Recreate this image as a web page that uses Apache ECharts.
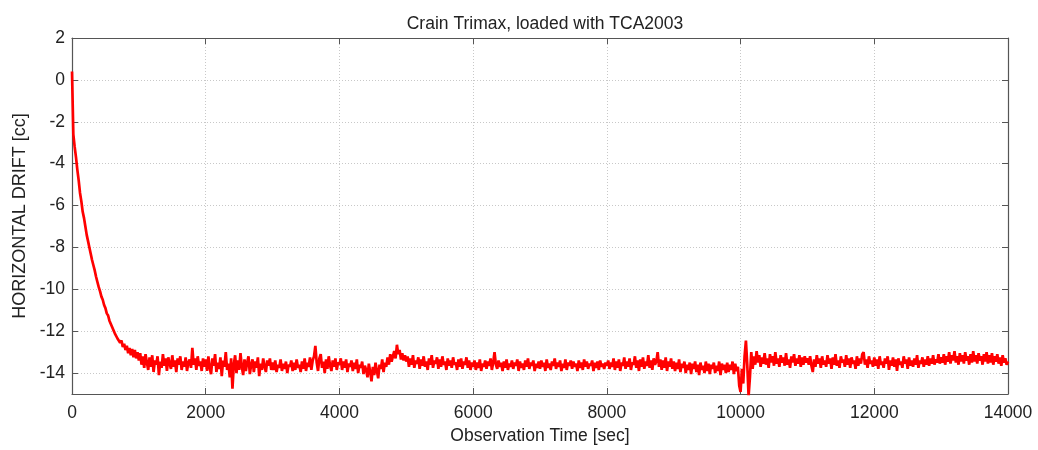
<!DOCTYPE html>
<html>
<head>
<meta charset="utf-8">
<script src="https://cdn.jsdelivr.net/npm/echarts@6/dist/echarts.min.js"></script>
<style>html,body{margin:0;padding:0;background:#fff}#c{width:1038px;height:450px}</style>
</head>
<body>
<div id="c"></div>
<script>
const titleText = 'Crain Trimax, loaded with TCA2003';
const xName = 'Observation Time [sec]';
const yName = 'HORIZONTAL DRIFT [cc]';
const sampleStep = 20; // seconds between samples
const xTicks = [0, 2000, 4000, 6000, 8000, 10000, 12000, 14000];
const yTicks = [2, 0, -2, -4, -6, -8, -10, -12, -14];

// Drift readings, one row per 1000 s (50 samples each)
const drift0 = [0.4, -2.6, -3.2, -3.7, -4.3, -4.8, -5.4, -5.8, -6.3, -6.6,
  -7.0, -7.4, -7.7, -8.0, -8.3, -8.6, -8.85, -9.1, -9.4, -9.65,
  -9.9, -10.1, -10.35, -10.5, -10.75, -10.9, -11.15, -11.25, -11.5, -11.55,
  -11.8, -11.85, -12.1, -12.05, -12.35, -12.3, -12.55, -12.45, -12.75, -12.6,
  -12.9, -12.7, -13.05, -12.8, -13.15, -12.85, -13.25, -12.9, -13.3, -13.0];
const drift1 = [-13.4, -13.05, -13.6, -13.2, -13.75, -13.1, -13.5, -13.85, -13.25, -13.7,
  -13.15, -13.95, -13.4, -13.6, -13.2, -14.1, -13.45, -13.75, -13.1, -13.65,
  -13.3, -13.9, -13.25, -13.55, -13.8, -13.15, -13.7, -13.4, -13.95, -13.3,
  -13.6, -13.2, -13.85, -13.45, -13.7, -13.25, -13.9, -13.5, -13.35, -13.75,
  -12.8, -13.6, -13.3, -13.85, -13.2, -13.65, -13.45, -13.9, -13.3, -13.7];
const drift2 = [-13.35, -13.9, -13.2, -13.75, -14.05, -13.3, -13.65, -13.1, -13.95, -13.5,
  -13.8, -13.25, -14.15, -13.4, -13.7, -13.0, -13.85, -13.55, -14.2, -13.3,
  -14.75, -13.6, -13.15, -14.0, -13.4, -13.85, -13.05, -13.7, -14.1, -13.35,
  -13.9, -13.5, -13.2, -14.05, -13.6, -13.35, -13.95, -13.45, -13.75, -13.25,
  -14.15, -13.55, -13.85, -13.3, -13.7, -13.95, -13.4, -13.65, -13.3, -13.85];
const drift3 = [-13.5, -13.85, -13.4, -13.95, -13.6, -13.75, -13.35, -13.9, -13.55, -13.8,
  -13.45, -14.0, -13.6, -13.7, -13.4, -13.9, -13.5, -13.85, -13.35, -13.75,
  -13.6, -13.95, -13.45, -13.8, -13.3, -13.9, -13.5, -13.7, -13.25, -13.85,
  -13.4, -13.2, -12.7, -13.5, -13.9, -13.3, -13.1, -13.75, -13.45, -14.0,
  -13.35, -13.8, -13.2, -13.65, -13.9, -13.4, -13.7, -13.3, -13.85, -13.5];
const drift4 = [-13.6, -13.3, -13.85, -13.45, -13.75, -13.35, -13.95, -13.55, -13.7, -13.4,
  -13.9, -13.5, -13.8, -13.35, -14.0, -13.6, -13.75, -13.45, -14.05, -13.65,
  -13.85, -14.2, -13.55, -13.95, -14.4, -13.7, -14.1, -13.5, -13.9, -14.25,
  -13.6, -13.8, -13.35, -13.95, -13.5, -13.7, -13.25, -13.6, -13.1, -13.45,
  -13.2, -12.95, -13.3, -12.65, -13.1, -12.9, -13.35, -13.05, -13.4, -13.15];
const drift5 = [-13.45, -13.2, -13.7, -13.3, -13.6, -13.15, -13.75, -13.4, -13.55, -13.25,
  -13.8, -13.35, -13.65, -13.2, -13.7, -13.45, -13.85, -13.3, -13.6, -13.15,
  -13.75, -13.4, -13.55, -13.25, -13.8, -13.35, -13.7, -13.2, -13.6, -13.45,
  -13.85, -13.3, -13.65, -13.4, -13.75, -13.25, -13.6, -13.5, -13.85, -13.35,
  -13.7, -13.3, -13.8, -13.45, -13.6, -13.25, -13.75, -13.4, -13.85, -13.5];
const drift6 = [-13.7, -13.4, -13.85, -13.5, -13.75, -13.35, -13.9, -13.55, -13.7, -13.4,
  -13.8, -13.45, -13.65, -13.3, -13.85, -13.5, -13.0, -13.6, -13.8, -13.4,
  -13.7, -13.5, -13.9, -13.45, -13.75, -13.35, -13.85, -13.55, -13.7, -13.4,
  -13.8, -13.5, -13.65, -13.35, -13.9, -13.45, -13.75, -13.55, -13.85, -13.4,
  -13.7, -13.3, -13.8, -13.5, -13.65, -13.4, -13.9, -13.55, -13.75, -13.45];
const drift7 = [-13.8, -13.4, -13.7, -13.5, -13.9, -13.35, -13.75, -13.55, -13.85, -13.45,
  -13.65, -13.3, -13.8, -13.5, -13.7, -13.4, -13.9, -13.55, -13.75, -13.35,
  -13.85, -13.5, -13.65, -13.4, -13.8, -13.45, -13.7, -13.55, -13.9, -13.4,
  -13.75, -13.5, -13.85, -13.35, -13.7, -13.45, -13.8, -13.55, -13.65, -13.4,
  -13.9, -13.5, -13.75, -13.45, -13.85, -13.4, -13.7, -13.55, -13.8, -13.5];
const drift8 = [-13.65, -13.4, -13.8, -13.5, -13.7, -13.3, -13.85, -13.45, -13.75, -13.35,
  -13.9, -13.5, -13.65, -13.25, -13.8, -13.45, -13.7, -13.3, -13.85, -13.5,
  -13.6, -13.2, -13.75, -13.4, -13.9, -13.35, -13.7, -13.25, -13.8, -13.45,
  -13.65, -13.15, -13.75, -13.4, -13.85, -13.3, -13.6, -13.45, -13.0, -13.7,
  -13.35, -13.85, -13.4, -13.75, -13.25, -13.9, -13.45, -13.7, -13.3, -13.8];
const drift9 = [-13.45, -13.9, -13.5, -13.8, -13.35, -13.95, -13.55, -13.75, -13.45, -14.0,
  -13.6, -13.85, -13.5, -14.05, -13.55, -13.8, -13.45, -13.95, -13.6, -14.1,
  -13.5, -13.85, -13.65, -14.0, -13.45, -13.9, -13.55, -14.05, -13.6, -13.8,
  -13.5, -14.0, -13.65, -13.9, -13.45, -14.1, -13.55, -13.85, -13.6, -14.0,
  -13.5, -13.95, -13.6, -13.85, -13.45, -14.05, -13.55, -13.9, -13.7, -14.6];
const drift10 = [-14.9, -13.8, -14.5, -13.2, -12.45, -13.6, -15.1, -14.2, -13.0, -13.8,
  -13.2, -13.6, -12.95, -13.5, -13.15, -13.7, -13.25, -13.55, -13.05, -13.6,
  -13.3, -13.75, -13.1, -13.5, -13.2, -13.65, -13.0, -13.55, -13.3, -13.7,
  -13.15, -13.5, -13.25, -13.65, -13.05, -13.6, -13.35, -13.75, -13.2, -13.5,
  -13.1, -13.65, -13.3, -13.55, -13.15, -13.7, -13.25, -13.6, -13.2, -13.5];
const drift11 = [-13.3, -13.6, -13.2, -13.65, -13.95, -13.35, -13.7, -13.15, -13.55, -13.3,
  -13.75, -13.2, -13.6, -13.4, -13.7, -13.15, -13.55, -13.3, -13.8, -13.25,
  -13.6, -13.1, -13.65, -13.4, -13.75, -13.2, -13.5, -13.35, -13.7, -13.15,
  -13.6, -13.3, -13.75, -13.25, -13.55, -13.4, -13.8, -13.2, -13.65, -13.3,
  -13.55, -13.1, -13.0, -13.6, -13.35, -13.75, -13.2, -13.55, -13.4, -13.7];
const drift12 = [-13.25, -13.65, -13.35, -13.8, -13.2, -13.6, -13.45, -13.75, -13.3, -13.55,
  -13.2, -13.85, -13.4, -13.65, -13.25, -13.7, -13.35, -13.9, -13.3, -13.6,
  -13.45, -13.75, -13.2, -13.55, -13.35, -13.8, -13.25, -13.65, -13.4, -13.7,
  -13.3, -13.6, -13.15, -13.75, -13.4, -13.55, -13.25, -13.7, -13.35, -13.6,
  -13.2, -13.65, -13.3, -13.55, -13.15, -13.6, -13.35, -13.5, -13.1, -13.55];
const drift13 = [-13.25, -13.5, -13.1, -13.6, -13.2, -13.45, -13.0, -13.55, -13.15, -13.4,
  -12.95, -13.5, -13.2, -13.6, -13.05, -13.45, -13.15, -13.55, -13.0, -13.4,
  -13.2, -13.6, -13.1, -13.5, -12.95, -13.45, -13.15, -13.55, -13.05, -13.4,
  -13.2, -13.6, -13.1, -13.45, -13.0, -13.55, -13.15, -13.5, -13.05, -13.6,
  -13.2, -13.45, -13.1, -13.55, -13.25, -13.65, -13.15, -13.5, -13.3, -13.6];
const driftEnd = [-13.45];

const drift = [].concat(drift0, drift1, drift2, drift3, drift4, drift5, drift6, drift7,
  drift8, drift9, drift10, drift11, drift12, drift13, driftEnd);
const seriesData = drift.map((v, i) => [i * sampleStep, v]);

const FONT = 'Liberation Sans, Arial, sans-serif';
const frameColor = '#555';
const gridColor = '#c8c8c8';
const textColor = '#222';

const chart = echarts.init(document.getElementById('c'), null, {renderer: 'canvas'});
chart.setOption({
  animation: false,
  backgroundColor: '#fff',
  title: {
    text: titleText, left: 540, top: 10, textAlign: 'center',
    textStyle: {fontFamily: FONT, fontSize: 17.5, fontWeight: 'normal', color: textColor}
  },
  grid: {left: 72, right: 30, top: 38, bottom: 54, containLabel: false},
  xAxis: [{
    type: 'value', min: 0, max: 14000, interval: 2000, position: 'bottom',
    name: xName, nameLocation: 'middle', nameGap: 33,
    nameTextStyle: {fontFamily: FONT, fontSize: 17.5, color: textColor},
    axisLine: {show: true, onZero: false, lineStyle: {color: frameColor, width: 1.2}},
    axisTick: {show: true, inside: true, length: 6, customValues: xTicks, lineStyle: {color: frameColor}},
    axisLabel: {fontFamily: FONT, fontSize: 17.5, color: textColor, margin: 10,
      customValues: xTicks, formatter: v => String(v)},
    splitLine: {show: true, lineStyle: {color: gridColor, type: [1, 2], width: 1}}
  }, {
    type: 'value', min: 0, max: 14000, interval: 2000, position: 'top',
    axisLine: {show: true, onZero: false, lineStyle: {color: frameColor, width: 1.2}},
    axisTick: {show: true, inside: true, length: 6, lineStyle: {color: frameColor}},
    axisLabel: {show: false}, splitLine: {show: false}
  }],
  yAxis: [{
    type: 'value', min: -15, max: 2, position: 'left',
    name: yName, nameLocation: 'middle', nameGap: 43, nameRotate: 90,
    nameTextStyle: {fontFamily: FONT, fontSize: 18, color: textColor},
    axisLine: {show: true, onZero: false, lineStyle: {color: frameColor, width: 1.2}},
    axisTick: {show: true, inside: true, length: 6, customValues: yTicks, lineStyle: {color: frameColor}},
    axisLabel: {fontFamily: FONT, fontSize: 17.5, color: textColor, margin: 7, customValues: yTicks},
    splitLine: {show: true, lineStyle: {color: gridColor, type: [1, 2], width: 1}}
  }, {
    type: 'value', min: -15, max: 2, position: 'right',
    axisLine: {show: true, onZero: false, lineStyle: {color: frameColor, width: 1.2}},
    axisTick: {show: true, inside: true, length: 6, customValues: yTicks, lineStyle: {color: frameColor}},
    axisLabel: {show: false}, splitLine: {show: false}
  }],
  series: [{
    type: 'line', data: seriesData, xAxisIndex: 0, yAxisIndex: 0,
    showSymbol: false, symbol: 'none', smooth: false, sampling: null,
    lineStyle: {color: '#ff0000', width: 2.7},
    clip: true
  }]
});
</script>
</body>
</html>
